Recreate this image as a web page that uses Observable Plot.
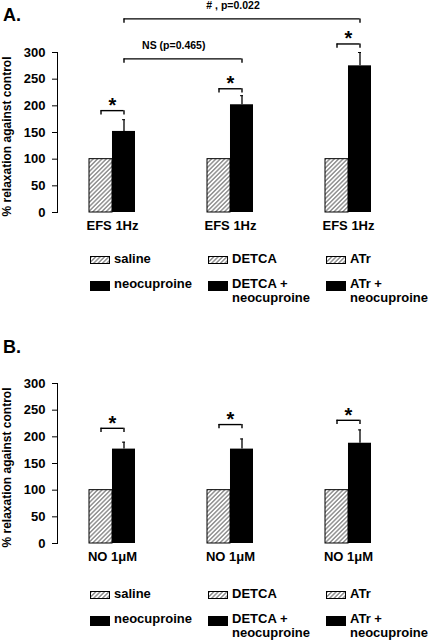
<!DOCTYPE html>
<html><head><meta charset="utf-8">
<script src="https://cdn.jsdelivr.net/npm/d3@7"></script>
<script src="https://cdn.jsdelivr.net/npm/@observablehq/plot@0.6"></script>
<style>
body{margin:0;background:#fff;}
#root{position:relative;width:432px;height:640px;overflow:hidden;font-family:"Liberation Sans",Arial,sans-serif;font-weight:bold;color:#000;background:#fff;}
.abs{position:absolute;}
.plabel{font-size:18px;line-height:18px;}
.leg{font-size:13px;line-height:14px;white-space:pre;}
</style></head><body><div id="root"></div>
<script>
// ---- Panel A data ----
const categoriesA = ["EFS 1Hz", "EFS 1Hz", "EFS 1Hz"];
const controlA = [100, 100, 100];
const treatedA = [152, 202, 275];
const errorA = [22, 17, 25];
const starLevelA = [191, 232, 316];
const compareA = [
  {from: 0, to: 1, level: 288, label: "NS (p=0.465)"},
  {from: 0, to: 2, level: 363, label: "# , p=0.022"}
];
// ---- Panel B data ----
const categoriesB = ["NO 1μM", "NO 1μM", "NO 1μM"];
const controlB = [100, 100, 100];
const treatedB = [177, 177, 188];
const errorB = [13, 19, 25];
const starLevelB = [216, 223, 231];
const compareB = [];
// ---- Shared ----
const yTicks = [0, 50, 100, 150, 200, 250, 300];
const yTitle = "% relaxation against control";
const legendTop = ["saline", "DETCA", "ATr"];
const legendBottom = ["neocuproine", "DETCA +\nneocuproine", "ATr +\nneocuproine"];

const FONT = '"Liberation Sans", Arial, sans-serif';
const W = 432, H = 240, ML = 57, MR = 30, MT = 52, MB = 28;
const PI = 0.612, PO = 0.2616;
const step = (W - ML - MR) / (3 - PI + 2 * PO);
const bw = step * (1 - PI);
const sub = bw / 4;
const hatchDefs = id => `<pattern id="${id}" patternUnits="userSpaceOnUse" width="3.1" height="3.1" patternTransform="rotate(45)"><rect width="3.1" height="3.1" fill="white"/><line x1="1.55" y1="0" x2="1.55" y2="3.1" stroke="#333" stroke-width="0.8"/></pattern>`;

function panel(categories, control, treated, err, starLevel, compare, id) {
  const rows = categories.map((c, i) => ({i, control: control[i], treated: treated[i], err: err[i], star: starLevel[i]}));
  const marks = [
    Plot.barY(rows, {x: "i", y: "control", fill: `url(#${id})`, stroke: "black", strokeWidth: 1, insetRight: bw / 2}),
    Plot.barY(rows, {x: "i", y: "treated", fill: "black", insetLeft: bw / 2}),
    Plot.ruleX(rows, {x: "i", y1: "treated", y2: d => d.treated + d.err, dx: sub, strokeWidth: 1.3}),
    Plot.ruleY(rows, {x1: "i", x2: "i", y: d => d.treated + d.err, insetLeft: 3 * sub - 1.5, insetRight: sub - 1.5, strokeWidth: 1}),
    Plot.ruleY(rows, {x1: "i", x2: "i", y: "star", insetLeft: sub, insetRight: sub, strokeWidth: 1.4}),
    Plot.ruleX(rows, {x: "i", y1: "star", y2: d => d.star - 8, dx: -sub, strokeWidth: 1.4}),
    Plot.ruleX(rows, {x: "i", y1: "star", y2: d => d.star - 8, dx: sub, strokeWidth: 1.4}),
    Plot.text(rows, {x: "i", y: "star", text: () => "*", dy: -5, fontSize: 20}),
    Plot.ruleY(compare, {x1: "from", x2: "to", y: "level", insetLeft: 3 * sub, insetRight: sub, strokeWidth: 1.4}),
    Plot.ruleX(compare, {x: "from", y1: "level", y2: d => d.level - 8, dx: sub, strokeWidth: 1.4}),
    Plot.ruleX(compare, {x: "to", y1: "level", y2: d => d.level - 8, dx: sub, strokeWidth: 1.4}),
    ...compare.map(c => Plot.text([c], {x: "from", y: "level", text: "label", dx: (c.to - c.from) * step / 2 + 2, dy: -13, fontSize: 10.5})),
    Plot.text([yTitle], {frameAnchor: "left", textAnchor: "middle", text: d => d, rotate: -90, dx: -50, dy: 4, fontSize: 12})
  ];
  const svg = Plot.plot({
    width: W, height: H,
    marginLeft: ML, marginRight: MR, marginTop: MT, marginBottom: MB,
    style: {fontFamily: FONT, fontSize: "13px", fontWeight: "bold", background: "transparent", overflow: "visible", color: "black"},
    x: {type: "band", domain: [0, 1, 2], paddingInner: PI, paddingOuter: PO, tickFormat: i => categories[i], tickSize: 0, tickPadding: 8, label: null},
    y: {domain: [0, 300], ticks: yTicks, tickSize: 5, tickPadding: 7, line: true, label: null},
    marks
  });
  svg.insertAdjacentHTML("afterbegin", `<defs>${hatchDefs(id)}</defs>`);
  return svg;
}

function legend(top, id) {
  const div = document.createElement("div");
  div.className = "abs";
  div.style.left = "0px"; div.style.top = top + "px"; div.style.width = "432px"; div.style.height = "60px";
  const cols = [90, 208, 326];
  let html = `<svg width="0" height="0" style="position:absolute"><defs>${hatchDefs(id)}</defs></svg>`;
  legendTop.forEach((t, c) => {
    html += `<svg class="abs" style="left:${cols[c]}px;top:4px" width="20" height="8"><rect x="0.5" y="0.5" width="19" height="7" fill="url(#${id})" stroke="black" stroke-width="1"/></svg>`;
    html += `<div class="abs leg" style="left:${cols[c] + 24}px;top:0px">${t}</div>`;
  });
  legendBottom.forEach((t, c) => {
    html += `<svg class="abs" style="left:${cols[c]}px;top:29px" width="20" height="10"><rect width="20" height="10" fill="black"/></svg>`;
    html += `<div class="abs leg" style="left:${cols[c] + 24}px;top:25px">${t}</div>`;
  });
  div.innerHTML = html;
  return div;
}

const root = document.getElementById("root");
function place(el, top) { el.style.position = "absolute"; el.style.left = "0px"; el.style.top = top + "px"; root.appendChild(el); }

place(panel(categoriesA, controlA, treatedA, errorA, starLevelA, compareA, "hatchA"), 0);
root.appendChild(legend(252, "hatchLA"));
place(panel(categoriesB, controlB, treatedB, errorB, starLevelB, compareB, "hatchB"), 331);
root.appendChild(legend(587, "hatchLB"));

const la = document.createElement("div"); la.className = "abs plabel"; la.style.left = "3px"; la.style.top = "6px"; la.textContent = "A."; root.appendChild(la);
const lb = document.createElement("div"); lb.className = "abs plabel"; lb.style.left = "3px"; lb.style.top = "338px"; lb.textContent = "B."; root.appendChild(lb);
</script></body></html>
